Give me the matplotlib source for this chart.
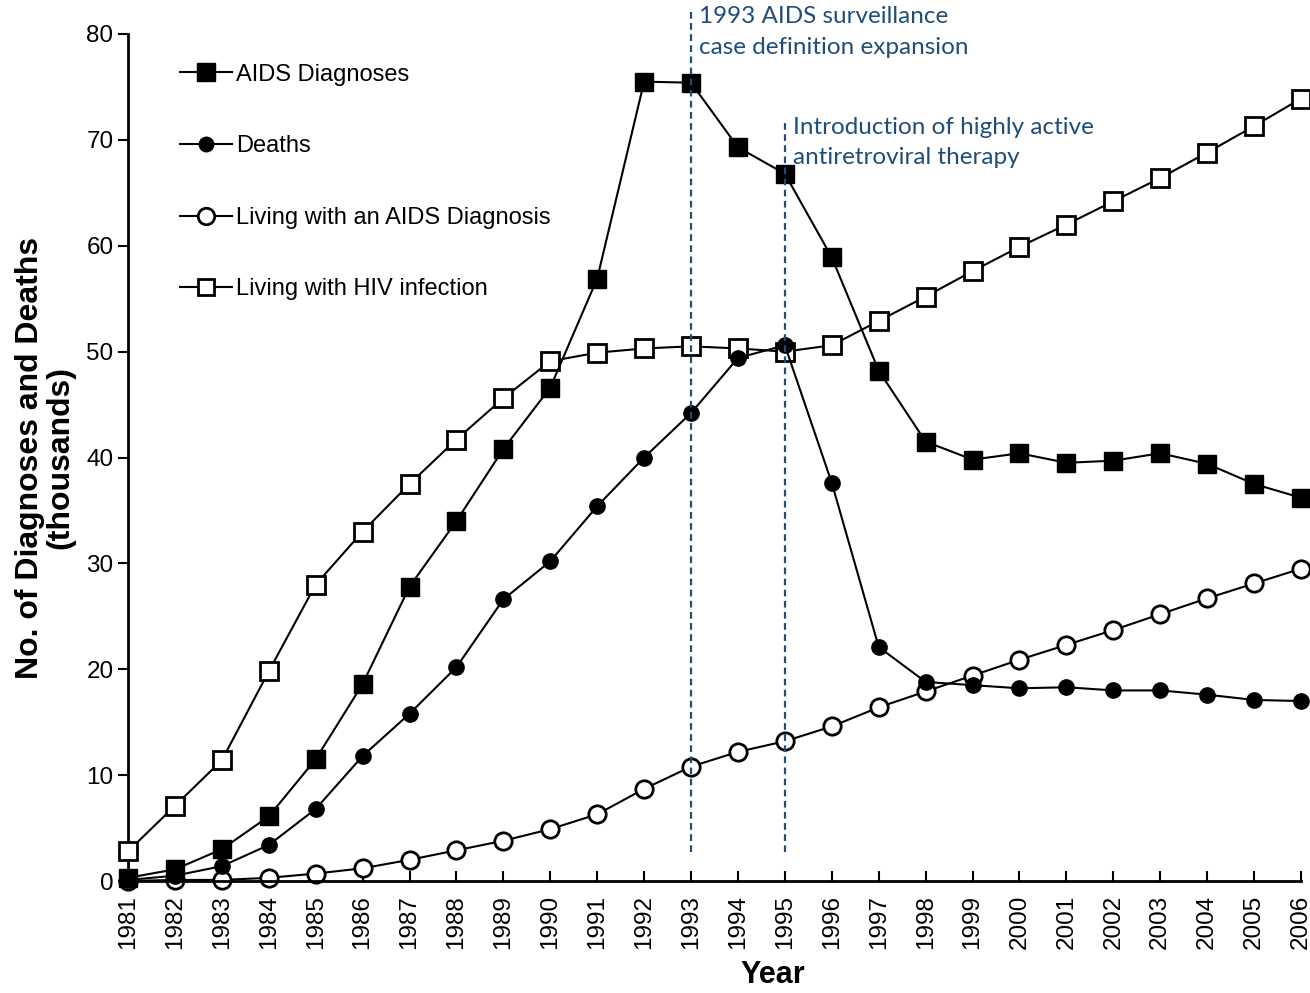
import matplotlib.pyplot as plt

plt.rcParams['font.family'] = ['Liberation Sans', 'DejaVu Sans']

# data (thousands)
years = list(range(1981, 2007))
aids_diagnoses = [0.3, 1.1, 3.0, 6.1, 11.5, 18.6, 27.8, 34.0, 40.8, 46.6, 56.9, 75.5, 75.4,
                  69.3, 66.8, 58.9, 48.2, 41.5, 39.8, 40.4, 39.5, 39.7, 40.4, 39.4, 37.5, 36.2]
deaths = [0.1, 0.5, 1.4, 3.4, 6.8, 11.8, 15.8, 20.2, 26.6, 30.2, 35.4, 40.0, 44.2,
          49.4, 50.6, 37.6, 22.1, 18.8, 18.5, 18.2, 18.3, 18.0, 18.0, 17.6, 17.1, 17.0]
living_aids = [0.0, 0.1, 0.1, 0.3, 0.7, 1.2, 2.0, 2.9, 3.8, 4.9, 6.3, 8.7, 10.8,
               12.2, 13.2, 14.6, 16.4, 17.9, 19.4, 20.9, 22.3, 23.7, 25.2, 26.7, 28.1, 29.5]
living_hiv = [2.8, 7.1, 11.4, 19.8, 28.0, 33.0, 37.5, 41.7, 45.6, 49.1, 49.9, 50.3, 50.5,
              50.3, 50.0, 50.6, 52.9, 55.2, 57.6, 59.9, 62.0, 64.2, 66.4, 68.8, 71.3, 73.9]

event_years = [1993, 1995]
event_tops = [82.4, 72.0]
event_texts = ['1993 AIDS surveillance\ncase definition expansion',
               'Introduction of highly active\nantiretroviral therapy']

fig = plt.figure(figsize=(13.1, 9.93), dpi=100)
ax = fig.add_axes([128 / 1310, 1 - 881 / 993, (1301 - 128) / 1310, (881 - 34) / 993])

ax.plot(years, living_hiv, '-s', color='black', lw=1.5, ms=12.5, mfc='white', mew=2,
        label='Living with HIV infection', zorder=3, clip_on=False)
ax.plot(years, aids_diagnoses, '-s', color='black', lw=1.5, ms=13, label='AIDS Diagnoses',
        zorder=4, clip_on=False)
ax.plot(years, deaths, '-o', color='black', lw=1.5, ms=11, label='Deaths', zorder=4, clip_on=False)
ax.plot(years, living_aids, '-o', color='black', lw=1.5, ms=12.5, mfc='white', mew=2,
        label='Living with an AIDS Diagnosis', zorder=3, clip_on=False)

# event markers
blue = '#1F4E79'
for yr, top, txt in zip(event_years, event_tops, event_texts):
    ax.plot([yr, yr], [2.7, top], ls=(0, (3, 2)), color=blue, lw=1.6, clip_on=False, zorder=5)
    ax.text(yr + 0.17, top + 0.2, txt, color=blue, fontsize=17.5, family=['Lato', 'DejaVu Sans'],
            va='top', ha='left', linespacing=1.55)

ax.set_xlim(1981, 2006)
ax.set_ylim(0, 80)
ax.set_xticks(years)
ax.set_xticklabels([str(y) for y in years], rotation=90, fontsize=17.5)
ax.set_yticks(range(0, 81, 10))
ax.tick_params(axis='y', labelsize=17.5, direction='out', length=7, width=1.5)
ax.tick_params(axis='x', direction='in', length=7, width=1.5, pad=10)
for side in ['top', 'right']:
    ax.spines[side].set_visible(False)
for side in ['left', 'bottom']:
    ax.spines[side].set_linewidth(2)
ax.spines['bottom'].set_zorder(6)

ax.set_xlabel('Year', fontsize=22, fontweight='bold')
ax.xaxis.set_label_coords((773 - 128) / 1173, -(975 - 881) / 847)
ax.xaxis.label.set_va('center')
ax.set_ylabel('No. of Diagnoses and Deaths\n(thousands)', fontsize=23, fontweight='bold',
              labelpad=8, linespacing=1.0)

handles, labels = ax.get_legend_handles_labels()
order = [1, 2, 3, 0]
ax.legend([handles[i] for i in order], [labels[i] for i in order],
          loc='upper left', bbox_to_anchor=(0.026, 0.990), frameon=False, fontsize=17,
          labelspacing=2.1, handlelength=2.2, handletextpad=0.2, markerscale=0.95)

fig.savefig('out.png', dpi=100)
